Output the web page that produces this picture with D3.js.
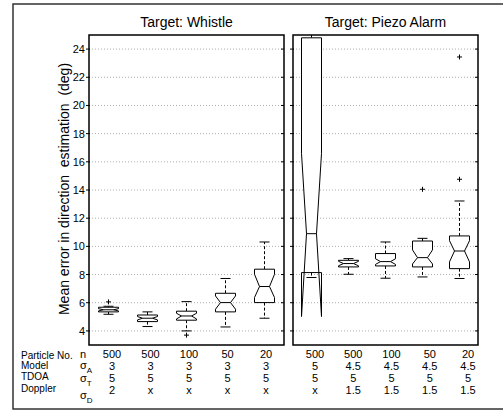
<!DOCTYPE html>
<html>
<head>
<meta charset="utf-8">
<script src="https://cdn.jsdelivr.net/npm/d3@7"></script>
<style>
  html, body { margin: 0; padding: 0; background: #fff; }
  svg { display: block; font-family: "Liberation Sans", Arial, Helvetica, sans-serif; }
</style>
</head>
<body>
<svg id="chart" width="503" height="412"></svg>
<script>
// --- data ---
const panelTitles = ["Target: Whistle", "Target: Piezo Alarm"];
const yTicks = [4, 6, 8, 10, 12, 14, 16, 18, 20, 22, 24];

// Whistle (left panel)
const whistleWhiskLo = [5.18, 4.31, 4.0, 4.28, 4.9];
const whistleQ1      = [5.35, 4.66, 4.76, 5.35, 6.01];
const whistleNotchLo = [5.42, 4.78, 4.85, 5.54, 6.37];
const whistleMedian  = [5.5, 4.9, 5.06, 6.01, 7.15];
const whistleNotchHi = [5.58, 5.02, 5.25, 6.48, 8.02];
const whistleQ3      = [5.68, 5.13, 5.4, 6.67, 8.38];
const whistleWhiskHi = [5.75, 5.35, 6.08, 7.72, 10.31];
const whistleOutliers = [[6.06], [], [3.7], [], []];

// Piezo alarm (right panel)
const piezoWhiskLo = [7.79, 8.02, 7.74, 7.83, 7.72];
const piezoQ1      = [8.14, 8.54, 8.61, 8.54, 8.42];
const piezoNotchLo = [5.02, 8.62, 8.72, 8.75, 8.9];
const piezoMedian  = [10.9, 8.78, 8.92, 9.2, 9.67];
const piezoNotchHi = [16.6, 8.94, 9.12, 9.75, 10.4];
const piezoQ3      = [24.8, 9.01, 9.49, 10.38, 10.74];
const piezoWhiskHi = [25.6, 9.13, 10.31, 10.57, 13.22];
const piezoOutliers = [[], [], [], [14.05], [14.76, 23.44]];

// table under the boxes
const rowNames = ["Particle No.", "Model", "TDOA", "Doppler"];
const rowSymbols = [["n", ""], ["\u03c3", "A"], ["\u03c3", "T"], ["\u03c3", "D"]];
const whistleN     = ["500", "500", "100", "50", "20"];
const whistleSigA  = ["3", "3", "3", "3", "3"];
const whistleSigT  = ["5", "5", "5", "5", "5"];
const whistleSigD  = ["2", "x", "x", "x", "x"];
const piezoN       = ["500", "500", "100", "50", "20"];
const piezoSigA    = ["5", "4.5", "4.5", "4.5", "4.5"];
const piezoSigT    = ["5", "5", "5", "5", "5"];
const piezoSigD    = ["x", "1.5", "1.5", "1.5", "1.5"];

function boxes(lo, q1, nlo, med, nhi, q3, hi, out) {
  return lo.map((d, i) => ({
    i: i, lo: d, q1: q1[i], nlo: nlo[i], med: med[i], nhi: nhi[i], q3: q3[i], hi: hi[i], out: out[i]
  }));
}

const panels = [
  {
    title: panelTitles[0], x0: 89, x1: 284,
    data: boxes(whistleWhiskLo, whistleQ1, whistleNotchLo, whistleMedian, whistleNotchHi, whistleQ3, whistleWhiskHi, whistleOutliers),
    rows: [whistleN, whistleSigA, whistleSigT, whistleSigD],
    labelRange: [112, 266]
  },
  {
    title: panelTitles[1], x0: 293, x1: 478,
    data: boxes(piezoWhiskLo, piezoQ1, piezoNotchLo, piezoMedian, piezoNotchHi, piezoQ3, piezoWhiskHi, piezoOutliers),
    rows: [piezoN, piezoSigA, piezoSigT, piezoSigD],
    labelRange: [315, 468]
  }
];

const svg = d3.select("#chart");
const plotTop = 35, plotBottom = 345;
const y = d3.scaleLinear().domain([3, 25]).range([plotBottom, plotTop]);
const boxW = 20;

// outer figure frame
svg.append("rect")
  .attr("x", 13).attr("y", 4).attr("width", 500).attr("height", 405)
  .attr("fill", "none").attr("stroke", "#333").attr("stroke-width", 1.5);

// y axis label
svg.append("text")
  .attr("transform", `translate(69,${(plotTop + plotBottom) / 2 - 1}) rotate(-90)`)
  .attr("text-anchor", "middle")
  .attr("font-size", 14)
  .style("white-space", "pre")
  .text("Mean error in direction  estimation  (deg)");

// tick labels (left only)
svg.append("g").selectAll("text")
  .data(yTicks).join("text")
  .attr("x", 85).attr("y", d => y(d) + 4)
  .attr("text-anchor", "end").attr("font-size", 11)
  .text(d => d);

const rowBase = [358, 369.5, 381.5, 394];

panels.forEach((p, pi) => {
  const g = svg.append("g");
  const x = d3.scaleBand().domain(d3.range(5)).range([p.x0, p.x1]);
  const cx = i => x(i) + x.bandwidth() / 2;

  const clipId = "clip" + pi;
  svg.append("clipPath").attr("id", clipId)
    .append("rect").attr("x", p.x0).attr("y", plotTop).attr("width", p.x1 - p.x0).attr("height", plotBottom - plotTop);

  // dotted grid
  g.append("g").selectAll("line")
    .data(yTicks).join("line")
    .attr("x1", p.x0).attr("x2", p.x1)
    .attr("y1", d => y(d)).attr("y2", d => y(d))
    .attr("stroke", "#999").attr("stroke-width", 0.8).attr("stroke-dasharray", "1,2");

  // ticks on both sides
  g.append("g").selectAll("line")
    .data(yTicks).join("line")
    .attr("x1", p.x0 - 3).attr("x2", p.x0 + 1)
    .attr("y1", d => y(d)).attr("y2", d => y(d))
    .attr("stroke", "#000");
  g.append("g").selectAll("line")
    .data(yTicks).join("line")
    .attr("x1", p.x1 - 3).attr("x2", p.x1)
    .attr("y1", d => y(d)).attr("y2", d => y(d))
    .attr("stroke", "#000");

  const bx = g.append("g").attr("clip-path", `url(#${clipId})`)
    .selectAll("g").data(p.data).join("g");

  // whiskers
  bx.append("line")
    .attr("x1", d => cx(d.i)).attr("x2", d => cx(d.i))
    .attr("y1", d => y(d.q3)).attr("y2", d => y(d.hi))
    .attr("stroke", "#000").attr("stroke-dasharray", "3,2");
  bx.append("line")
    .attr("x1", d => cx(d.i)).attr("x2", d => cx(d.i))
    .attr("y1", d => y(d.q1)).attr("y2", d => y(d.lo))
    .attr("stroke", "#000").attr("stroke-dasharray", "3,2");
  // caps
  bx.append("line")
    .attr("x1", d => cx(d.i) - boxW / 4).attr("x2", d => cx(d.i) + boxW / 4)
    .attr("y1", d => y(d.hi)).attr("y2", d => y(d.hi))
    .attr("stroke", "#000");
  bx.append("line")
    .attr("x1", d => cx(d.i) - boxW / 4).attr("x2", d => cx(d.i) + boxW / 4)
    .attr("y1", d => y(d.lo)).attr("y2", d => y(d.lo))
    .attr("stroke", "#000");

  // notched box
  bx.append("path")
    .attr("fill", "#fff").attr("stroke", "#000").attr("stroke-width", 1)
    .attr("d", d => {
      const c = cx(d.i), h = boxW / 2, q = boxW / 4;
      return d3.line()([
        [c - h, y(d.q1)], [c - h, y(d.nlo)], [c - q, y(d.med)], [c - h, y(d.nhi)], [c - h, y(d.q3)],
        [c + h, y(d.q3)], [c + h, y(d.nhi)], [c + q, y(d.med)], [c + h, y(d.nlo)], [c + h, y(d.q1)]
      ]) + "Z";
    });
  // median
  bx.append("line")
    .attr("x1", d => cx(d.i) - boxW / 4).attr("x2", d => cx(d.i) + boxW / 4)
    .attr("y1", d => y(d.med)).attr("y2", d => y(d.med))
    .attr("stroke", "#000");

  // outliers
  bx.selectAll("path.out")
    .data(d => d.out.map(v => ({ i: d.i, v: v })))
    .join("path").attr("class", "out")
    .attr("d", d => {
      const c = cx(d.i), yy = y(d.v);
      return `M${c - 2.5},${yy}H${c + 2.5}M${c},${yy - 2.5}V${yy + 2.5}`;
    })
    .attr("stroke", "#000").attr("stroke-width", 1).attr("fill", "none");

  // panel frame
  g.append("rect")
    .attr("x", p.x0).attr("y", plotTop).attr("width", p.x1 - p.x0).attr("height", plotBottom - plotTop)
    .attr("fill", "none").attr("stroke", "#000").attr("stroke-width", 1.5);

  // title
  g.append("text")
    .attr("x", (p.x0 + p.x1) / 2).attr("y", 27)
    .attr("text-anchor", "middle").attr("font-size", 14)
    .text(p.title);

  // table values
  const lx = d3.scalePoint().domain(d3.range(5)).range(p.labelRange);
  p.rows.forEach((row, ri) => {
    g.append("g").selectAll("text")
      .data(row).join("text")
      .attr("x", (d, i) => lx(i)).attr("y", rowBase[ri])
      .attr("text-anchor", "middle").attr("font-size", 11)
      .text(d => d);
  });
});

// row names and symbols
const tbl = svg.append("g");
const nameBase = [358.5, 369, 380, 391.5];
tbl.selectAll("text.name")
  .data(rowNames).join("text").attr("class", "name")
  .attr("x", 21).attr("y", (d, i) => nameBase[i])
  .attr("font-size", 10)
  .text(d => d);

svg.append("clipPath").attr("id", "symclip")
  .append("rect").attr("x", 0).attr("y", 0).attr("width", 503).attr("height", 403);

const symBase = [357.5, 369, 382, 399];
const sym = tbl.append("g").attr("clip-path", "url(#symclip)")
  .selectAll("text.sym").data(rowSymbols).join("text").attr("class", "sym")
  .attr("x", 80).attr("y", (d, i) => symBase[i])
  .attr("font-size", 11);
sym.append("tspan").text(d => d[0]);
sym.append("tspan").attr("font-size", 8).attr("dy", 4).text(d => d[1]);
</script>
</body>
</html>
